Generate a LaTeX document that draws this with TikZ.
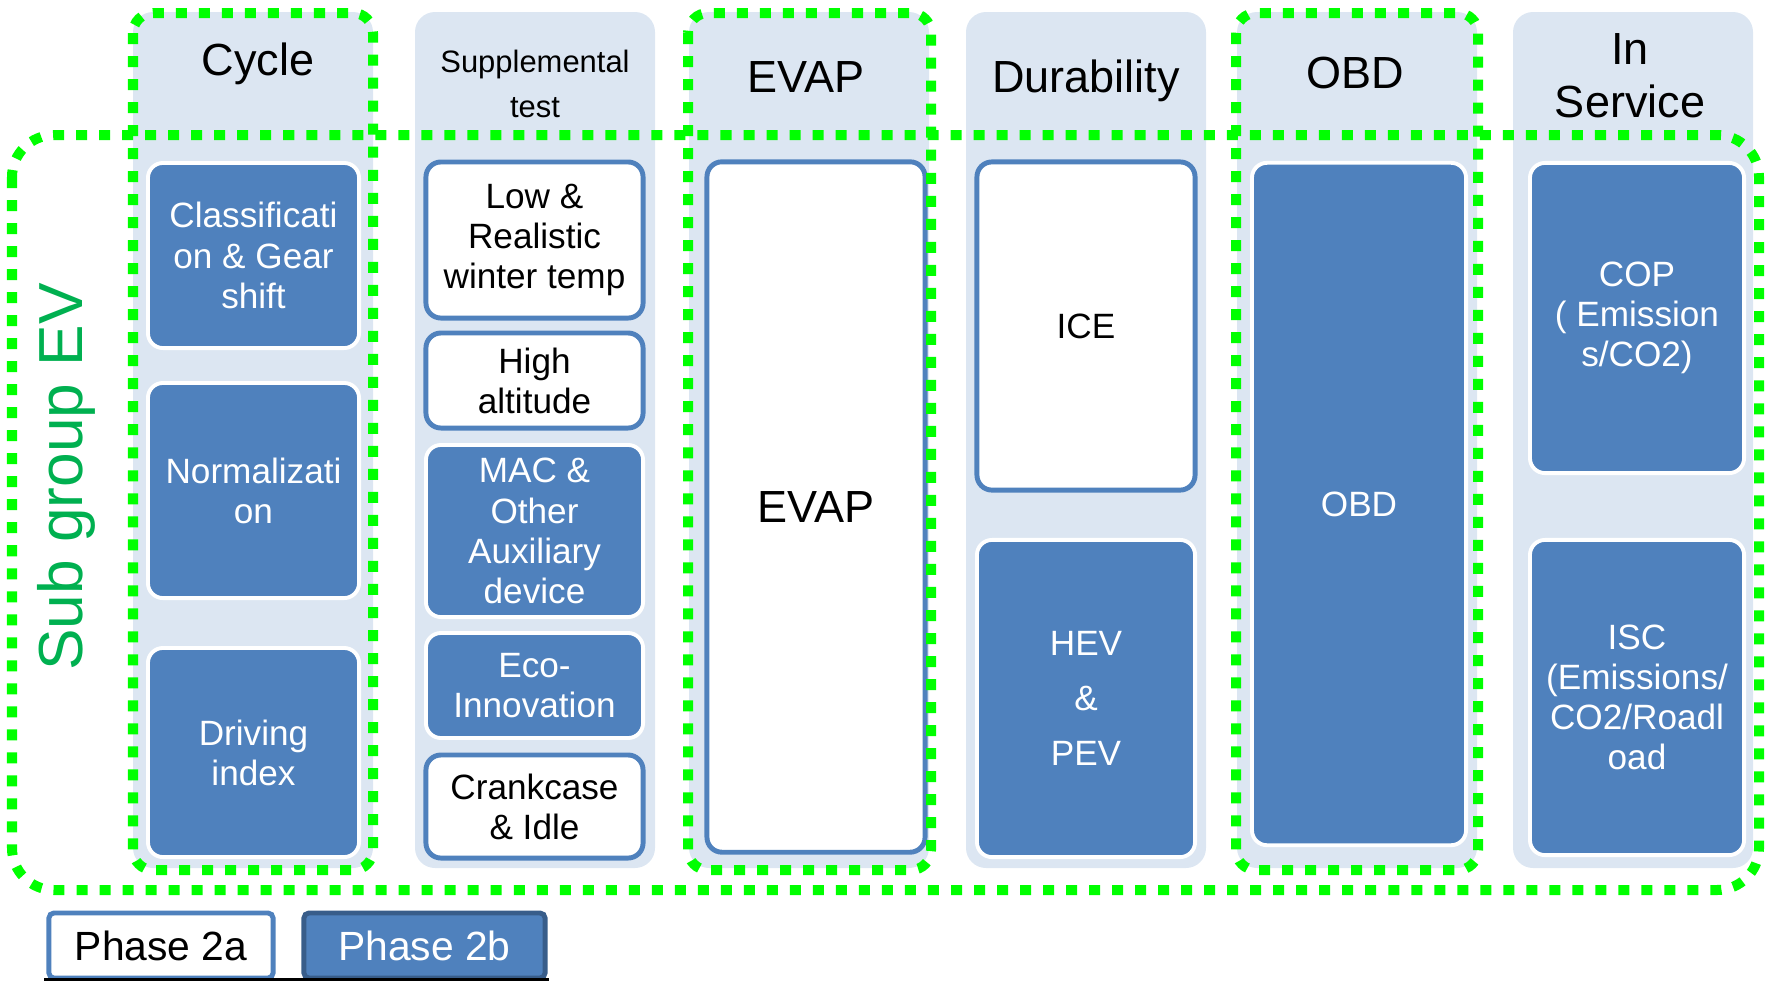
\documentclass[tikz,border=0pt]{standalone}
\usepackage{fontspec}
\setmainfont{Liberation Sans}
\definecolor{panelblue}{HTML}{DCE6F2}
\definecolor{boxblue}{HTML}{4F81BD}
\definecolor{edgeblue}{HTML}{385D8A}
\definecolor{dotgreen}{HTML}{00FF00}
\definecolor{subgreen}{HTML}{00B050}
\newcommand{\boxtext}{\fontsize{10}{11.4}\selectfont}
\newcommand{\titletext}{\fontsize{12.8}{15}\selectfont}
\tikzset{
  panel/.style={fill=panelblue, rounded corners=0.2cm},
  dark box/.style={draw=white, line width=1.1pt, fill=boxblue, text=white,
    rounded corners=0.15cm, align=center, font=\boxtext, inner sep=0pt},
  light box/.style={draw=boxblue, line width=1.4pt, fill=white,
    rounded corners=0.15cm, align=center, font=\boxtext, inner sep=0pt},
  group line/.style={draw=dotgreen, line width=0.1cm,
    dash pattern=on 0.11cm off 0.12cm, rounded corners=0.2cm},
  col title/.style={font=\titletext, anchor=base},
}

\begin{document}
\begin{tikzpicture}[x=0.01cm, y=-0.01cm]
  \useasboundingbox (0,0) rectangle (1767,981);

  \foreach \x in {133,415,689,966,1237,1513}
    \fill[panel] (\x,12) rectangle ++(240,856);

  \node[dark box, minimum width=2.11cm, minimum height=1.85cm] (cls) at (253.5,255.5) {Classificati\\on \& Gear\\shift};
  \node[dark box, minimum width=2.11cm, minimum height=2.15cm] (nrm) at (253.5,490.5) {Normalizati\\on};
  \node[dark box, minimum width=2.11cm, minimum height=2.09cm] (drv) at (253.5,752.5) {Driving\\index};

  \node[light box, minimum width=2.17cm, minimum height=1.56cm] (low) at (534.5,240) {Low \&\\Realistic\\winter temp};
  \node[light box, minimum width=2.17cm, minimum height=0.95cm] (alt) at (534.5,380.5) {High\\altitude};
  \node[dark box, minimum width=2.17cm, minimum height=1.72cm] (mac) at (534.5,531) {MAC \&\\Other\\Auxiliary\\device};
  \node[dark box, minimum width=2.17cm, minimum height=1.05cm] (eco) at (534.5,685.5) {Eco-\\Innovation};
  \node[light box, minimum width=2.17cm, minimum height=1.03cm] (crk) at (534.5,806.5) {Crankcase\\\& Idle};

  \node[light box, minimum width=2.18cm, minimum height=6.9cm, font=\titletext] (evp) at (816,507) {EVAP};

  \node[light box, minimum width=2.18cm, minimum height=3.28cm] (ice) at (1086,326) {ICE};
  \node[dark box, minimum width=2.18cm, minimum height=3.17cm, font=\fontsize{10}{15.6}\selectfont] (hev) at (1086,698.5) {HEV\\\&\\PEV};

  \node[dark box, minimum width=2.14cm, minimum height=6.82cm] (obd) at (1359,504) {OBD};

  \node[dark box, minimum width=2.14cm, minimum height=3.1cm] (cop) at (1637,318) {COP\\( Emission\\s/CO2)};
  \node[dark box, minimum width=2.14cm, minimum height=3.15cm] (isc) at (1637,697.5) {ISC\\(Emissions/\\CO2/Roadl\\oad};

  \node[col title] (tcyc) at (258,75) {Cycle};
  \node[font=\fontsize{8.8}{13}\selectfont, align=center] (tsup) at (535,84) {Supplemental\\test};
  \node[col title] (tevp) at (806,92) {EVAP};
  \node[col title] (tdur) at (1086,92) {Durability};
  \node[col title] (tobd) at (1355,88) {OBD};
  \node[font=\fontsize{12.8}{15}\selectfont, align=center] (tins) at (1630,76) {In\\Service};

  \node[light box, minimum width=2.24cm, minimum height=0.65cm, rounded corners=0.05cm,
    font=\fontsize{11.6}{14}\selectfont] (ph2a) at (161,945.5) {Phase 2a};
  \node[dark box, draw=edgeblue, line width=1.4pt, minimum width=2.41cm, minimum height=0.65cm,
    rounded corners=0.05cm, font=\fontsize{11.6}{14}\selectfont] (ph2b) at (424.5,945.5) {Phase 2b};
  \draw[line width=0.6pt] (44,979.5) -- (549,979.5);

  \draw[group line] (133,13) rectangle (373,870);
  \draw[group line] (688,13) rectangle (931,870);
  \draw[group line] (1236,13) rectangle (1478,870);
  \draw[group line, rounded corners=0.42cm] (12,135) rectangle (1759,890);

  \node[rotate=90, anchor=base, text=subgreen, font=\fontsize{17.7}{21}\selectfont] (sub) at (82,477) {Sub group EV};
\end{tikzpicture}
\end{document}
